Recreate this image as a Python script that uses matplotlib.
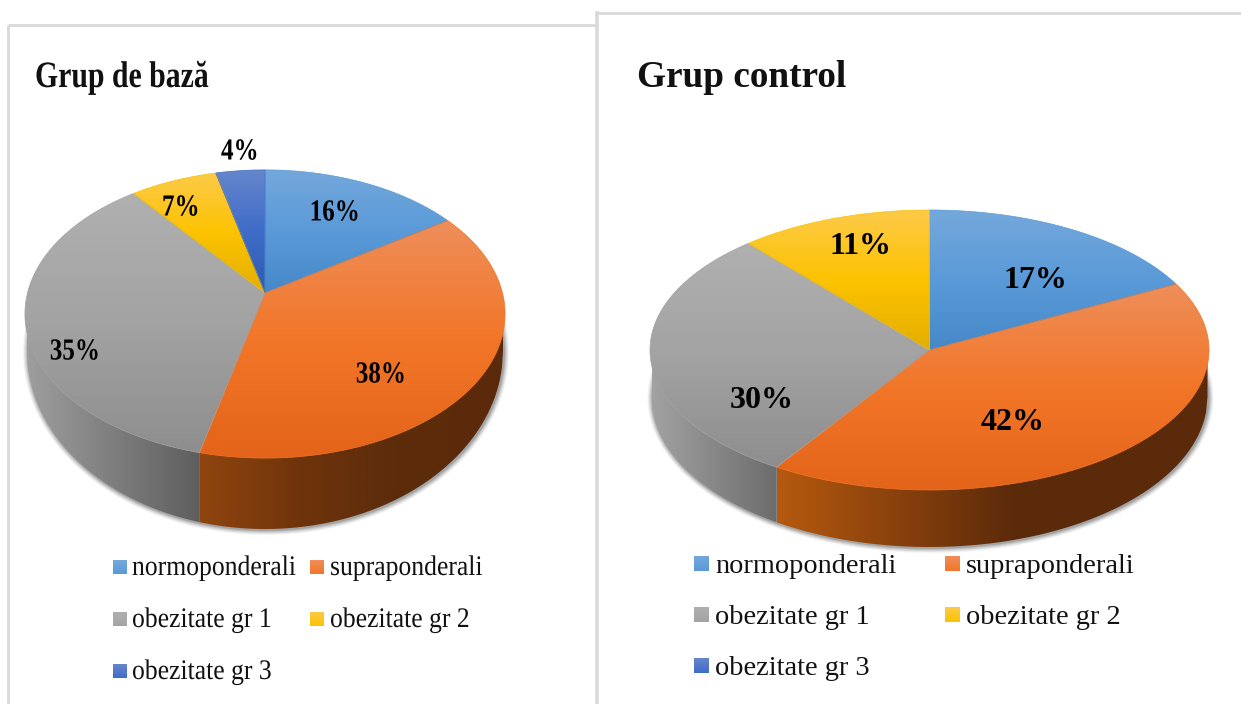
import numpy as np
import matplotlib
matplotlib.use('Agg')
import matplotlib.pyplot as plt
import matplotlib.patches as pth
from matplotlib.colors import to_rgb
from matplotlib.patheffects import AbstractPathEffect
from matplotlib.transforms import Affine2D

categories = ['normoponderali', 'supraponderali', 'obezitate gr 1', 'obezitate gr 2', 'obezitate gr 3']
valuesBaza = [16, 38, 35, 7, 4]
valuesControl = [17, 42, 30, 11, 0]
titleBaza = 'Grup de bază'
titleControl = 'Grup control'

# top, middle, bottom colours of every slice
topColors = [
    ['#74a8dc', '#5a9ad8', '#4688c8'],
    ['#ee8e5a', '#f27628', '#e3641a'],
    ['#b0b0b0', '#a3a3a3', '#8e8e8e'],
    ['#fdca48', '#fcc300', '#e4ae00'],
    ['#6686cc', '#3f6cc8', '#2e5cb0'],
]
legendColors = [c[:2] for c in topColors]
serif = 'Liberation Serif'


class Condense(AbstractPathEffect):
    # the left panel of the picture is squeezed sideways, text included
    def __init__(self, sx, centered=False):
        super().__init__()
        self.sx = sx
        self.centered = centered

    def draw_path(self, renderer, gc, tpath, affine, rgbFace=None):
        mid = tpath.get_extents().x1/2 if self.centered else 0
        squeeze = Affine2D().translate(-mid, 0).scale(self.sx, 1).translate(mid, 0)
        renderer.draw_path(gc, tpath, squeeze+affine, rgbFace)


def squeezed(sx, centered=False):
    return [Condense(sx, centered)] if sx != 1 else None


def verticalFill(pts, colors):
    x0, y0 = pts.min(0)
    x1, y1 = pts.max(0)
    pos = np.linspace(0, 1, 64)
    rgb = np.array([to_rgb(c) for c in colors])
    stops = np.linspace(0, 1, len(colors))
    img = np.stack([np.interp(pos, stops, rgb[:, i]) for i in range(3)], -1)[:, None, :]
    paintImage(img, (x0, x1, y1, y0), pts)


def horizontalFill(pts, stops, colors):
    x0, y0 = pts.min(0)
    x1, y1 = pts.max(0)
    pos = np.linspace(0, 1, 128)
    rgb = np.array([to_rgb(c) for c in colors])
    img = np.stack([np.interp(pos, stops, rgb[:, i]) for i in range(3)], -1)[None, :, :]
    paintImage(img, (x0, x1, y1, y0), pts)


def paintImage(img, extent, pts):
    im = axes.imshow(img, extent=extent, origin='upper', aspect='auto', zorder=3, interpolation='bilinear')
    clip = pth.Polygon(pts, closed=True, transform=axes.transData)
    im.set_clip_path(clip)


def plotPie(values, geo, wallColors, labelPos, labelSize, sx):
    cx, ay, s, ryp, k, warp = geo['cx'], geo['ay'], geo['s'], geo['ryp'], geo['k'], geo['warp']
    rx = s/np.sqrt(1-k*k)
    top, bot = ay-ryp/(1+k), ay+ryp/(1-k)
    cy, ry = (top+bot)/2, (bot-top)/2
    bcy, brx, bry = geo['bcy'], geo['brx'], geo['bry']

    def rim(theta):
        t = np.arctan2(warp*np.sin(theta), np.cos(theta))
        u, v = np.sin(t), np.cos(t)
        w = 1+k*v
        return np.column_stack([cx+s*u/w, ay-ryp*v/w])

    # soft shadow round the base
    for grow, alpha in zip([5, 4, 3, 2, 1], [.06, .08, .1, .14, .2]):
        axes.add_patch(pth.Ellipse((cx+1, bcy+1), 2*(brx+grow), 2*(bry+grow),
                                   color='#404040', alpha=alpha, lw=0, zorder=2))

    edges = np.cumsum([0]+list(values))/sum(values)*2*np.pi
    for i in range(len(values)):
        if values[i] == 0:
            continue
        theta = np.linspace(edges[i], edges[i+1], 200)
        arc = rim(theta)
        low = arc[arc[:, 1] >= cy]
        if len(low) == 0:
            continue
        x = np.linspace(max(low[:, 0].min(), cx-brx), min(low[:, 0].max(), cx+brx), 300)
        yTop = cy+ry*np.sqrt(np.clip(1-((x-cx)/rx)**2, 0, 1))
        yBot = bcy+bry*np.sqrt(np.clip(1-((x-cx)/brx)**2, 0, 1))
        yBot = np.maximum(yTop, yBot)
        pts = np.concatenate([np.column_stack([x, yTop-2]), np.column_stack([x, yBot])[::-1]])
        stops, cols = wallColors[i]
        horizontalFill(pts, stops, cols)

    for i in range(len(values)):
        if values[i] == 0:
            continue
        theta = np.linspace(edges[i], edges[i+1], 200)
        pts = np.concatenate([[[cx, ay]], rim(theta)])
        verticalFill(pts, topColors[i])
        axes.add_patch(pth.Polygon(pts, closed=True, fill=False, ec=topColors[i][1], lw=.5, zorder=4))

    shown = [v for v in values if v > 0]
    for v, (x, y) in zip(shown, labelPos):
        axes.text(x, y, '%d%%' % v, family=serif, weight='bold', size=labelSize,
                  ha='center', va='center', color='black', zorder=6,
                  path_effects=squeezed(sx, True))


def plotLegend(names, squares, labelSize, side, sx):
    for name, colors, (x, y, tx, by) in zip(names, legendColors, squares):
        pts = np.array([[x, y], [x+side, y], [x+side, y+side], [x, y+side]], float)
        verticalFill(pts, colors)
        axes.text(tx, by, name, family=serif, size=labelSize, ha='left', va='baseline',
                  color='#111111', zorder=6, path_effects=squeezed(sx))


if __name__ == '__main__':
    figure = plt.figure(figsize=(12.41, 7.04), dpi=100)
    axes = figure.add_axes([0, 0, 1, 1])
    axes.axis('off')

    # panel borders
    line = dict(color='#d9d9d9', lw=2, zorder=1, solid_capstyle='butt')
    axes.plot([8, 8], [704, 25], **line)
    axes.plot([8, 597], [25, 25], **line)
    axes.plot([597, 597], [704, 13], color='#d9d9d9', lw=2.6, zorder=1)
    axes.plot([597, 1241], [13, 13], **line)

    axes.text(35, 87, titleBaza, family=serif, weight='bold', size=26.8, va='baseline', ha='left',
              color='#111111', path_effects=squeezed(.8))
    axes.text(637, 87, titleControl, family=serif, weight='bold', size=26.8, va='baseline', ha='left', color='#111111')

    grayLeft = ([0, 1], ['#9e9e9e', '#5e5e5e'])
    orangeLeft = ([0, .33, .65, 1], ['#90450f', '#6f340b', '#5c2c0b', '#5a2a0a'])
    plotPie(valuesBaza,
            dict(cx=265, ay=293, s=237.5, ryp=141, k=.146, warp=.95, bcy=351, brx=238, bry=178),
            {1: orangeLeft, 2: grayLeft},
            [(335, 213), (381, 375), (75, 352), (181, 208), (240, 152)], 22, .82)

    grayRight = ([0, 1], ['#a2a2a2', '#6c6c6c'])
    orangeRight = ([0, .36, .54, 1], ['#b5590f', '#7c3a0c', '#5c2b0a', '#5a2a0a'])
    plotPie(valuesControl,
            dict(cx=929.5, ay=350, s=279.5, ryp=140, k=0, warp=1.03, bcy=397, brx=278, bry=150),
            {1: orangeRight, 2: grayRight},
            [(1035, 280), (1013, 423), (762, 400), (861, 246)], 23, 1)

    plotLegend(categories,
               [(113, 560, 132, 575), (310, 560, 330, 575), (113, 612, 132, 627),
                (310, 612, 330, 627), (113, 664, 132, 679)], 20.4, 14, .906)
    plotLegend(categories,
               [(694, 556, 715, 573), (945, 556, 966, 573), (694, 607, 715, 624),
                (945, 607, 966, 624), (694, 658, 715, 675)], 20.4, 15, 1)

    axes.set_xlim(0, 1241)
    axes.set_ylim(704, 0)
    figure.savefig('out.png', dpi=100, facecolor='white')
